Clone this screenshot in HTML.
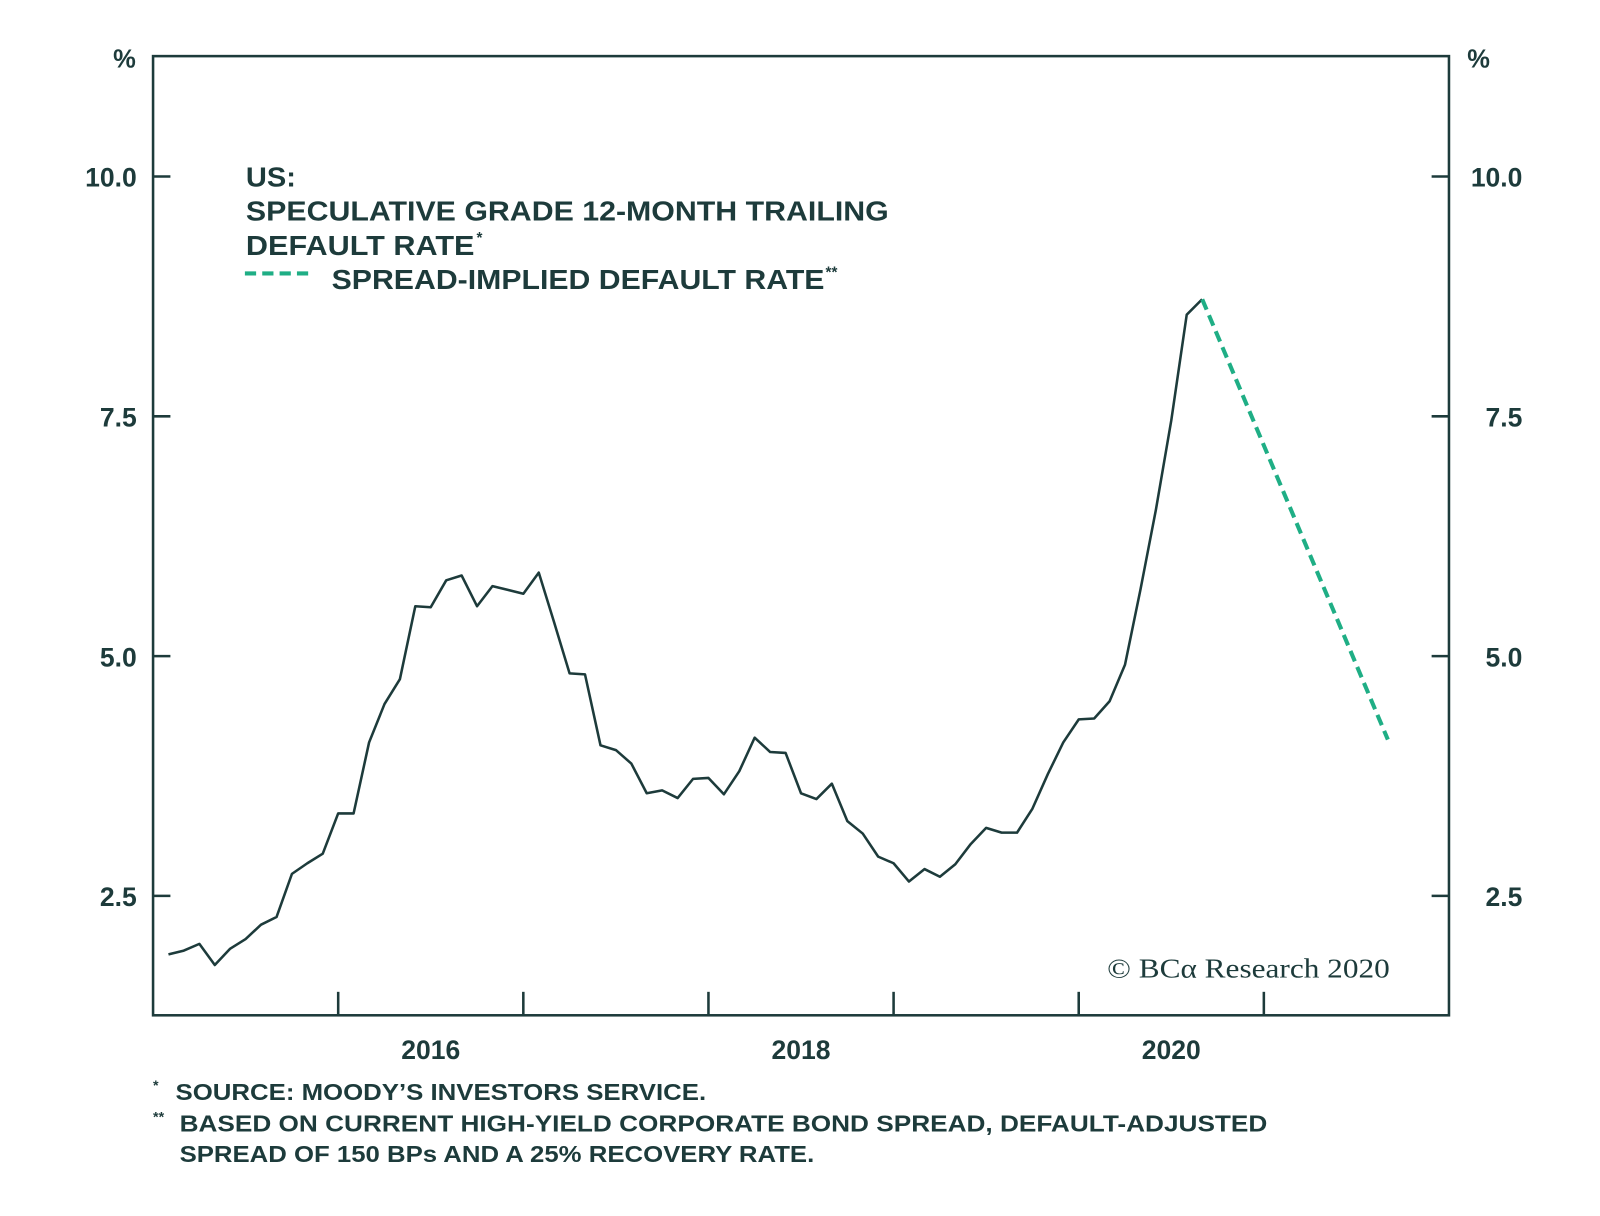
<!DOCTYPE html>
<html><head><meta charset="utf-8"><style>
html,body{margin:0;padding:0;background:#fff;}
svg{display:block;}
.t{font-family:"Liberation Sans",sans-serif;font-weight:bold;fill:#1d3b3b;}
</style></head><body>
<svg id="chart" width="1600" height="1216" viewBox="0 0 1600 1216" xmlns="http://www.w3.org/2000/svg">
<g transform="scale(1.0204)">
<rect x="150" y="55" width="1270" height="940" fill="none" stroke="#1d3b3b" stroke-width="2.5"/>
<g id="yticks"></g><g id="xticks"></g>
<text class="t" x="122" y="66" font-size="25" text-anchor="middle">%</text>
<text class="t" x="1449" y="66" font-size="25" text-anchor="middle">%</text>
<g>
<text class="t" x="241" y="183" font-size="27" textLength="49" lengthAdjust="spacingAndGlyphs">US:</text>
<text class="t" x="241" y="216" font-size="27" textLength="630" lengthAdjust="spacingAndGlyphs">SPECULATIVE GRADE 12-MONTH TRAILING</text>
<text class="t" x="241" y="250" font-size="27" textLength="224" lengthAdjust="spacingAndGlyphs">DEFAULT RATE</text>
<text class="t" x="467" y="238" font-size="15">*</text>
<line x1="240" y1="268" x2="308" y2="268" stroke="#1fae85" stroke-width="4" stroke-dasharray="11,6"/>
<text class="t" x="325" y="283" font-size="27" textLength="483" lengthAdjust="spacingAndGlyphs">SPREAD-IMPLIED DEFAULT RATE</text>
<text class="t" x="809" y="272" font-size="15">**</text>
</g>
<path id="mainLine" fill="none" stroke="#1d3b3b" stroke-width="2.5" stroke-linejoin="round"/>
<path id="spreadLine" fill="none" stroke="#1fae85" stroke-width="4" stroke-dasharray="11,6"/>
<text x="1085" y="958" font-family="'Liberation Serif',serif" font-size="27" fill="#1d3b3b" textLength="277" lengthAdjust="spacingAndGlyphs">© BCα Research 2020</text>
<g>
<text class="t" x="150" y="1068" font-size="14">*</text>
<text class="t" x="172" y="1078" font-size="23" textLength="520" lengthAdjust="spacingAndGlyphs">SOURCE: MOODY’S INVESTORS SERVICE.</text>
<text class="t" x="150" y="1099" font-size="14">**</text>
<text class="t" x="176" y="1109" font-size="23" textLength="1066" lengthAdjust="spacingAndGlyphs">BASED ON CURRENT HIGH-YIELD CORPORATE BOND SPREAD, DEFAULT-ADJUSTED</text>
<text class="t" x="176" y="1139" font-size="23" textLength="622" lengthAdjust="spacingAndGlyphs">SPREAD OF 150 BPs AND A 25% RECOVERY RATE.</text>
</g>
</g>
</svg>
<script>
const yTickValues=[2.5,5.0,7.5,10.0];
const yTickLabels=["2.5","5.0","7.5","10.0"];
const xYearTicks=[2016,2017,2018,2019,2020,2021];
const xLabelYears=[2016,2018,2020];
const startYear=2015+1/12;
const defaultRate=[1.89,1.93,2.00,1.78,1.95,2.05,2.20,2.28,2.73,2.84,2.94,3.36,3.36,4.10,4.50,4.76,5.52,5.51,5.79,5.84,5.52,5.73,5.69,5.65,5.87,5.35,4.82,4.81,4.07,4.02,3.88,3.57,3.60,3.52,3.72,3.73,3.56,3.80,4.15,4.00,3.99,3.57,3.51,3.67,3.28,3.15,2.91,2.84,2.65,2.78,2.70,2.83,3.04,3.21,3.16,3.16,3.41,3.77,4.10,4.34,4.35,4.53,4.91,5.69,6.52,7.46,8.56,8.72];
const spreadDates=[2020.667,2021.67];
const spreadValues=[8.72,4.13];
const NS="http://www.w3.org/2000/svg";
const X=t=>150+(t-2015)*181.43;
const Y=v=>173+(10-v)*94;
const yt=document.getElementById('yticks');
yTickValues.forEach((v,i)=>{
 const l=document.createElementNS(NS,'path');
 
 
 l.setAttribute('d',`M150 ${Y(v)}H167M1403 ${Y(v)}H1420`);
 l.setAttribute('stroke','#1d3b3b');l.setAttribute('stroke-width','2.5');yt.appendChild(l);
 const a=document.createElementNS(NS,'text');
 
 
 a.setAttribute('class','t');a.setAttribute('x',134);a.setAttribute('y',Y(v)+10);a.setAttribute('font-size','26');a.setAttribute('text-anchor','end');a.textContent=yTickLabels[i];yt.appendChild(a);
 const b=document.createElementNS(NS,'text');
 
 
 b.setAttribute('class','t');b.setAttribute('x',1492);b.setAttribute('y',Y(v)+10);b.setAttribute('font-size','26');b.setAttribute('text-anchor','end');b.textContent=yTickLabels[i];yt.appendChild(b);
});
const xt=document.getElementById('xticks');
xYearTicks.forEach(yr=>{
 const l=document.createElementNS(NS,'line');
 
 
 l.setAttribute('x1',X(yr));l.setAttribute('x2',X(yr));l.setAttribute('y1',972);l.setAttribute('y2',995);
 l.setAttribute('stroke','#1d3b3b');l.setAttribute('stroke-width','2.5');xt.appendChild(l);
});
xLabelYears.forEach(yr=>{
 const a=document.createElementNS(NS,'text');
 
 
 a.setAttribute('class','t');a.setAttribute('x',X(yr+0.5));a.setAttribute('y',1038);a.setAttribute('font-size','26');a.setAttribute('text-anchor','middle');a.textContent=yr;xt.appendChild(a);
});
document.getElementById('mainLine').setAttribute('d',defaultRate.map((v,i)=>(i?'L':'M')+X(startYear+i/12).toFixed(1)+' '+Y(v).toFixed(1)).join(''));
document.getElementById('spreadLine').setAttribute('d',spreadValues.map((v,i)=>(i?'L':'M')+X(spreadDates[i]).toFixed(1)+' '+Y(v).toFixed(1)).join(''));
</script>
</body></html>
